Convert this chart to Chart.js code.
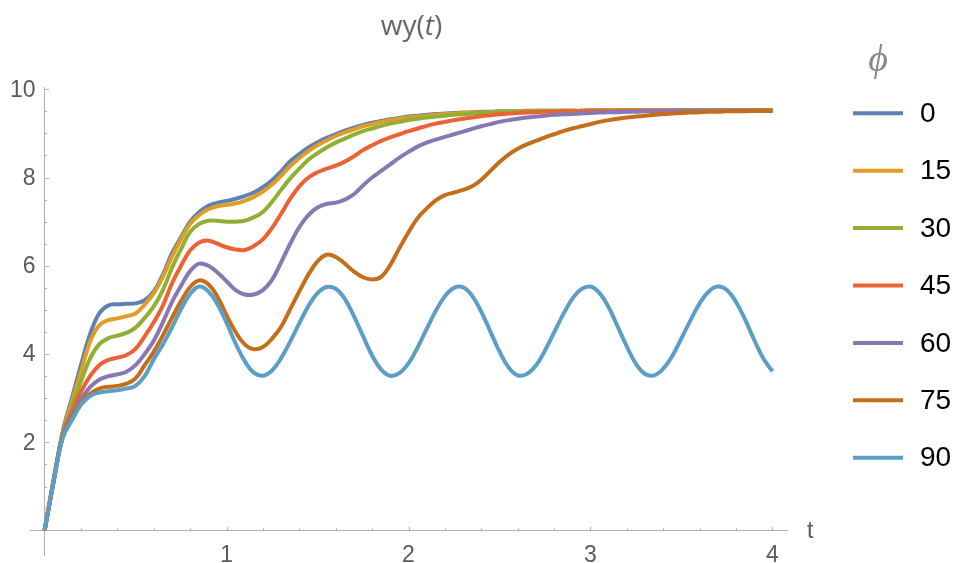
<!DOCTYPE html>
<html>
<head>
<meta charset="utf-8">
<script src="https://cdn.jsdelivr.net/npm/chart.js@4"></script>
<style>
  html, body { margin: 0; padding: 0; background: #fff; }
</style>
</head>
<body>
<canvas id="graficoWy" width="959" height="563"></canvas>
<script>
// tiempos t (paso 0.05)
const tiempos = [0, 0.05, 0.1, 0.15, 0.2, 0.25, 0.3, 0.35, 0.4, 0.45,
  0.5, 0.55, 0.6, 0.65, 0.7, 0.75, 0.8, 0.85, 0.9, 0.95,
  1.0, 1.05, 1.1, 1.15, 1.2, 1.25, 1.3, 1.35, 1.4, 1.45,
  1.5, 1.55, 1.6, 1.65, 1.7, 1.75, 1.8, 1.85, 1.9, 1.95,
  2.0, 2.05, 2.1, 2.15, 2.2, 2.25, 2.3, 2.35, 2.4, 2.45,
  2.5, 2.55, 2.6, 2.65, 2.7, 2.75, 2.8, 2.85, 2.9, 2.95,
  3.0, 3.05, 3.1, 3.15, 3.2, 3.25, 3.3, 3.35, 3.4, 3.45,
  3.5, 3.55, 3.6, 3.65, 3.7, 3.75, 3.8, 3.85, 3.9, 3.95, 4.0];

const etiquetasPhi = ['0', '15', '30', '45', '60', '75', '90'];

// valores de wy(t), uno por cada phi
const wyPhi0 = [0, 1.15, 2.25, 3.0, 3.75, 4.45, 4.92, 5.1, 5.13, 5.14,
  5.15, 5.22, 5.42, 5.8, 6.28, 6.65, 7.0, 7.22, 7.36, 7.43,
  7.47, 7.52, 7.58, 7.66, 7.78, 7.94, 8.14, 8.37, 8.53, 8.68,
  8.8, 8.9, 8.98, 9.06, 9.13, 9.19, 9.24, 9.28, 9.32, 9.35,
  9.38, 9.4, 9.42, 9.44, 9.45, 9.46, 9.47, 9.48, 9.49, 9.49,
  9.5, 9.5, 9.5, 9.51, 9.51, 9.51, 9.51, 9.51, 9.51, 9.51,
  9.52, 9.52, 9.52, 9.52, 9.52, 9.52, 9.52, 9.52, 9.52, 9.52,
  9.52, 9.52, 9.52, 9.52, 9.52, 9.52, 9.52, 9.52, 9.52, 9.52, 9.52];

const wyPhi15 = [0, 1.15, 2.22, 2.92, 3.6, 4.28, 4.65, 4.77, 4.81, 4.86,
  4.92, 5.12, 5.38, 5.75, 6.2, 6.6, 6.95, 7.15, 7.28, 7.35,
  7.38, 7.41, 7.47, 7.56, 7.68, 7.84, 8.04, 8.26, 8.44, 8.6,
  8.73, 8.84, 8.94, 9.02, 9.09, 9.16, 9.21, 9.26, 9.3, 9.33,
  9.36, 9.38, 9.4, 9.42, 9.44, 9.45, 9.46, 9.47, 9.48, 9.48,
  9.49, 9.49, 9.5, 9.5, 9.51, 9.51, 9.51, 9.51, 9.51, 9.51,
  9.52, 9.52, 9.52, 9.52, 9.52, 9.52, 9.52, 9.52, 9.52, 9.52,
  9.52, 9.52, 9.52, 9.52, 9.52, 9.52, 9.52, 9.52, 9.52, 9.52, 9.52];

const wyPhi30 = [0, 1.14, 2.2, 2.8, 3.38, 3.9, 4.22, 4.36, 4.42, 4.48,
  4.6, 4.82, 5.08, 5.45, 5.95, 6.38, 6.77, 6.95, 7.02, 7.02,
  7.0, 7.0, 7.02, 7.1, 7.22, 7.45, 7.72, 7.98, 8.2, 8.4,
  8.55, 8.68, 8.79, 8.88, 8.97, 9.05, 9.11, 9.17, 9.22, 9.26,
  9.3, 9.33, 9.36, 9.38, 9.4, 9.42, 9.43, 9.45, 9.46, 9.47,
  9.48, 9.48, 9.49, 9.49, 9.5, 9.5, 9.5, 9.51, 9.51, 9.51,
  9.52, 9.52, 9.52, 9.52, 9.52, 9.52, 9.52, 9.52, 9.52, 9.52,
  9.52, 9.52, 9.52, 9.52, 9.52, 9.52, 9.52, 9.52, 9.52, 9.52, 9.52];

const wyPhi45 = [0, 1.13, 2.17, 2.7, 3.15, 3.5, 3.75, 3.87, 3.92, 3.98,
  4.12, 4.4, 4.72, 5.1, 5.6, 6.0, 6.35, 6.53, 6.57, 6.5,
  6.42, 6.37, 6.36, 6.45, 6.6, 6.86, 7.18, 7.52, 7.8, 8.0,
  8.12, 8.2, 8.27, 8.36, 8.48, 8.62, 8.73, 8.83, 8.91, 8.98,
  9.05, 9.11, 9.17, 9.22, 9.26, 9.3, 9.33, 9.36, 9.39, 9.41,
  9.43, 9.45, 9.46, 9.47, 9.48, 9.49, 9.49, 9.5, 9.5, 9.5,
  9.51, 9.51, 9.51, 9.51, 9.52, 9.52, 9.52, 9.52, 9.52, 9.52,
  9.52, 9.52, 9.52, 9.52, 9.52, 9.52, 9.52, 9.52, 9.52, 9.52, 9.52];

const wyPhi60 = [0, 1.12, 2.15, 2.62, 2.98, 3.25, 3.42, 3.5, 3.54, 3.6,
  3.75, 4.0, 4.3, 4.72, 5.18, 5.55, 5.88, 6.05, 6.0, 5.85,
  5.65, 5.45, 5.35, 5.35, 5.45, 5.68, 6.08, 6.5, 6.88, 7.15,
  7.32, 7.4, 7.43, 7.5, 7.62, 7.82, 8.0, 8.15, 8.3, 8.45,
  8.58, 8.7, 8.79, 8.86, 8.92, 8.98, 9.04, 9.1, 9.16, 9.21,
  9.26, 9.3, 9.33, 9.36, 9.38, 9.4, 9.42, 9.43, 9.44, 9.45,
  9.46, 9.47, 9.48, 9.48, 9.49, 9.49, 9.5, 9.5, 9.5, 9.51,
  9.51, 9.51, 9.51, 9.51, 9.52, 9.52, 9.52, 9.52, 9.52, 9.52, 9.52];

const wyPhi75 = [0, 1.12, 2.12, 2.55, 2.9, 3.1, 3.22, 3.26, 3.28, 3.33,
  3.45, 3.75, 4.05, 4.42, 4.82, 5.2, 5.52, 5.67, 5.58, 5.3,
  4.88, 4.5, 4.22, 4.11, 4.16, 4.35, 4.62, 5.02, 5.42, 5.8,
  6.1, 6.25, 6.2, 6.05, 5.87, 5.74, 5.69, 5.75, 6.02, 6.4,
  6.76, 7.08, 7.3, 7.48, 7.6, 7.66, 7.72, 7.8, 7.95, 8.15,
  8.35, 8.52, 8.65, 8.75, 8.83, 8.91, 8.98, 9.05, 9.11, 9.16,
  9.21, 9.26, 9.3, 9.33, 9.36, 9.38, 9.4, 9.42, 9.44, 9.45,
  9.46, 9.47, 9.48, 9.49, 9.49, 9.5, 9.5, 9.5, 9.51, 9.51, 9.51];

const wyPhi90 = [0, 1.12, 2.1, 2.5, 2.85, 3.05, 3.13, 3.16, 3.18, 3.22,
  3.28, 3.5, 3.88, 4.22, 4.6, 5.02, 5.36, 5.53, 5.42, 5.13,
  4.71, 4.24, 3.84, 3.58, 3.51, 3.63, 3.91, 4.29, 4.7, 5.09,
  5.38, 5.52, 5.48, 5.25, 4.86, 4.41, 3.97, 3.65, 3.51, 3.57,
  3.79, 4.15, 4.57, 4.98, 5.31, 5.5, 5.51, 5.32, 4.96, 4.51,
  4.06, 3.7, 3.52, 3.55, 3.74, 4.08, 4.49, 4.9, 5.25, 5.47,
  5.53, 5.38, 5.06, 4.62, 4.17, 3.78, 3.55, 3.52, 3.67, 3.96,
  4.36, 4.77, 5.15, 5.42, 5.53, 5.45, 5.18, 4.78, 4.32, 3.9, 3.61];

const ticksX = [1, 2, 3, 4];
const ticksY = [2, 4, 6, 8, 10];

const colores = ['#5e81b5', '#e19c24', '#8fb032', '#eb6235', '#8778b3', '#c56e1a', '#5d9ec7'];
const series = [wyPhi0, wyPhi15, wyPhi30, wyPhi45, wyPhi60, wyPhi75, wyPhi90];

const colorEje = '#b0b0b0';
const colorTexto = '#5a5a5a';
const fuenteEjes = '23px "Liberation Sans", Arial, sans-serif';

// Marcas y numeros de los ejes (estilo Mathematica), titulo y leyenda
const decoraciones = {
    id: 'decoraciones',
    afterDraw(chart) {
        const { ctx, scales: { x, y } } = chart;
        const x0 = x.getPixelForValue(0);
        const y0 = y.getPixelForValue(0);
        ctx.save();

        // marcas menores y mayores, hacia adentro
        ctx.strokeStyle = colorEje;
        ctx.lineWidth = 1;
        ctx.beginPath();
        for (let k = 1; k <= 20; k++) {
            const px = Math.round(x.getPixelForValue(k * 0.2)) + 0.5;
            const largo = k % 5 === 0 ? 4 : 2.5;
            ctx.moveTo(px, y0);
            ctx.lineTo(px, y0 - largo);
        }
        for (let k = 1; k <= 20; k++) {
            const py = Math.round(y.getPixelForValue(k * 0.5)) + 0.5;
            const largo = k % 4 === 0 ? 4.5 : 2.5;
            ctx.moveTo(x0, py);
            ctx.lineTo(x0 + largo, py);
        }
        ctx.stroke();

        // numeros de los ejes
        ctx.fillStyle = colorTexto;
        ctx.font = fuenteEjes;
        ctx.textAlign = 'center';
        ctx.textBaseline = 'top';
        ticksX.forEach(v => ctx.fillText(String(v), x.getPixelForValue(v), y0 + 13));
        ctx.textAlign = 'right';
        ctx.textBaseline = 'middle';
        ticksY.forEach(v => ctx.fillText(String(v), x0 - 9, y.getPixelForValue(v) + 1));

        // etiqueta del eje x
        ctx.textAlign = 'left';
        ctx.fillText('t', x.right + 20, y0 + 1);

        // titulo wy(t) con t en cursiva
        const partes = [
            { txt: 'wy(', font: '28px "Open Sans", sans-serif' },
            { txt: 't', font: 'italic 28px "Open Sans", sans-serif' },
            { txt: ')', font: '28px "Open Sans", sans-serif' }
        ];
        let ancho = 0;
        partes.forEach(p => { ctx.font = p.font; p.w = ctx.measureText(p.txt).width; ancho += p.w; });
        let cx = (chart.chartArea.left + chart.chartArea.right) / 2 - ancho / 2 + 3;
        ctx.fillStyle = '#666';
        ctx.textBaseline = 'alphabetic';
        partes.forEach(p => { ctx.font = p.font; ctx.fillText(p.txt, cx, 35); cx += p.w; });

        // leyenda
        ctx.fillStyle = '#888';
        ctx.font = 'italic 38px "Liberation Serif", serif';
        ctx.textAlign = 'center';
        ctx.textBaseline = 'middle';
        ctx.fillText('\u03d5', 878, 61);

        ctx.font = '28px "Liberation Sans", Arial, sans-serif';
        ctx.textAlign = 'left';
        chart.data.datasets.forEach((ds, i) => {
            const fy = 113.3 + i * 57.4;
            ctx.strokeStyle = ds.borderColor;
            ctx.lineWidth = 4;
            ctx.beginPath();
            ctx.moveTo(853, fy);
            ctx.lineTo(903, fy);
            ctx.stroke();
            ctx.fillStyle = '#000';
            ctx.fillText(ds.label, 920, fy + 1);
        });
        ctx.restore();
    }
};

const datasets = series.map((valores, i) => ({
    label: etiquetasPhi[i],
    data: tiempos.map((t, k) => ({ x: t, y: valores[k] })),
    borderColor: colores[i],
    borderWidth: 4,
    pointRadius: 0,
    fill: false,
    tension: 0.4,
    order: series.length - 1 - i
}));

new Chart(document.getElementById('graficoWy').getContext('2d'), {
    type: 'line',
    data: { datasets: datasets },
    options: {
        responsive: false,
        animation: false,
        layout: { padding: { left: 30, right: 172, top: 87, bottom: 8 } },
        plugins: {
            legend: { display: false },
            title: { display: false },
            tooltip: { enabled: false }
        },
        scales: {
            x: {
                type: 'linear',
                min: -0.08,
                max: 4.08,
                position: { y: 0 },
                afterBuildTicks: scale => { scale.ticks = ticksX.map(v => ({ value: v })); },
                afterFit: scale => { scale.height = 0; },
                ticks: { display: false },
                grid: { display: false, drawTicks: false },
                border: { display: true, color: colorEje, width: 1 }
            },
            y: {
                type: 'linear',
                min: -0.55,
                max: 10.05,
                position: { x: 0 },
                afterBuildTicks: scale => { scale.ticks = ticksY.map(v => ({ value: v })); },
                afterFit: scale => { scale.width = 0; },
                ticks: { display: false },
                grid: { display: false, drawTicks: false },
                border: { display: true, color: colorEje, width: 1 }
            }
        }
    },
    plugins: [decoraciones]
});
</script>
</body>
</html>
